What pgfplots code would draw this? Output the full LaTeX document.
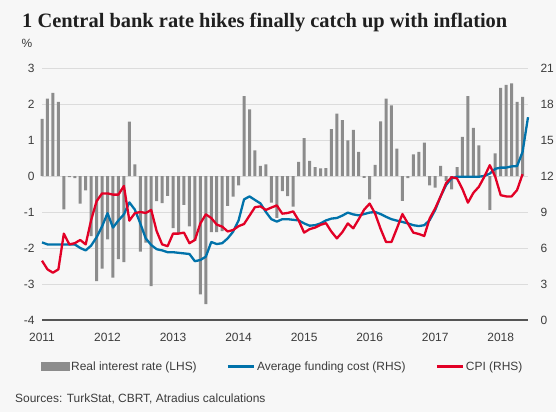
\documentclass[border=0pt]{standalone}
\usepackage{pgfplots}
\pgfplotsset{compat=1.18}
\usepackage{pgfplotstable}
\usepackage{fontspec}
\setmainfont{Liberation Sans}
\newfontfamily\titlefont{Liberation Serif}
\definecolor{bgcol}{RGB}{247,247,247}
\definecolor{barcol}{RGB}{140,140,140}
\definecolor{bluecol}{RGB}{0,114,170}
\definecolor{redcol}{RGB}{226,0,38}
\definecolor{gridcol}{RGB}{220,220,220}
\definecolor{txtcol}{RGB}{60,60,60}
\definecolor{axcol}{RGB}{85,85,85}
\pgfplotsset{
  linelegend/.style={legend image code/.code={\draw[##1] (0bp,0bp) -- (26bp,0bp);}},
  barlegend/.style={legend image code/.code={\fill[barcol] (0bp,-4bp) rectangle (28bp,4bp);}},
}
% Real interest rate (LHS), monthly, Jan 2011 = 0
\pgfplotstableread{
m r
0 1.59
1 2.15
2 2.31
3 2.06
4 -0.93
5 -0.03
6 -0.06
7 -0.77
8 -0.40
9 -1.67
10 -2.92
11 -2.57
12 -1.76
13 -2.82
14 -2.31
15 -2.39
16 1.51
17 0.32
18 -2.10
19 -1.85
20 -3.06
21 -0.70
22 -0.75
23 -0.55
24 -1.45
25 -1.60
26 -0.80
27 -1.40
28 -1.80
29 -3.29
30 -3.56
31 -1.56
32 -1.56
33 -1.53
34 -0.83
35 -0.57
36 -0.26
37 2.22
38 1.85
39 0.71
40 0.28
41 0.32
42 -0.74
43 -1.16
44 -0.42
45 -0.56
46 -0.85
47 0.39
48 1.05
49 0.42
50 0.25
51 0.21
52 0.22
53 1.30
54 1.73
55 1.55
56 0.99
57 1.28
58 0.67
59 -0.05
60 -0.65
61 0.31
62 1.52
63 2.15
64 1.96
65 0.76
66 -0.69
67 -0.06
68 0.60
69 0.67
70 0.93
71 -0.26
72 -0.32
73 0.28
74 -0.14
75 -0.37
76 0.25
77 1.09
78 2.22
79 1.34
80 0.85
81 0.03
82 -0.94
83 0.63
84 2.45
85 2.53
86 2.57
87 2.06
88 2.20
}\realrate
% Average funding cost (RHS)
\pgfplotstableread{
m v
0 6.47
1 6.3
2 6.3
3 6.3
4 6.3
5 6.3
6 6.3
7 6.0
8 5.8
9 6.2
10 6.9
11 7.8
12 8.9
13 7.7
14 8.3
15 8.8
16 9.8
17 9.2
18 8.05
19 6.8
20 6.25
21 5.9
22 5.8
23 5.65
24 5.65
25 5.6
26 5.55
27 5.5
28 4.9
29 5.0
30 5.28
31 6.5
32 6.33
33 6.4
34 6.8
35 7.36
36 8.3
37 10.05
38 10.3
39 10.0
40 9.72
41 9.0
42 8.4
43 8.2
44 8.4
45 8.4
46 8.35
47 8.3
48 8.05
49 7.86
50 7.9
51 8.05
52 8.3
53 8.45
54 8.5
55 8.7
56 8.95
57 8.8
58 8.72
59 8.83
60 8.95
61 9.0
62 8.83
63 8.6
64 8.4
65 8.28
66 8.17
67 8.05
68 7.9
69 7.83
70 7.9
71 8.33
72 9.17
73 10.3
74 11.25
75 11.8
76 11.94
77 11.94
78 11.94
79 11.94
80 11.94
81 12.0
82 12.2
83 12.6
84 12.7
85 12.7
86 12.8
87 12.83
88 14.0
89 16.9
}\funding
% CPI (RHS)
\pgfplotstableread{
m v
0 4.94
1 4.22
2 3.94
3 4.22
4 7.2
5 6.3
6 6.4
7 6.67
8 6.3
9 8.33
10 9.9
11 10.55
12 10.55
13 10.45
14 10.45
15 11.17
16 8.28
17 8.9
18 9.0
19 8.92
20 9.17
21 7.4
22 6.3
23 6.15
24 7.2
25 7.2
26 7.28
27 6.4
28 6.67
29 8.05
30 8.8
31 8.5
32 7.95
33 7.78
34 7.38
35 7.5
36 7.82
37 8.0
38 8.7
39 9.4
40 9.47
41 9.17
42 9.37
43 9.55
44 8.86
45 8.92
46 9.05
47 8.3
48 7.28
49 7.57
50 7.7
51 7.93
52 8.07
53 7.36
54 6.8
55 7.32
56 8.05
57 7.64
58 8.4
59 9.2
60 9.7
61 8.87
62 7.6
63 6.5
64 6.5
65 7.64
66 8.83
67 8.05
68 7.28
69 7.17
70 7.0
71 8.47
72 9.3
73 10.3
74 11.4
75 11.9
76 11.8
77 10.9
78 9.78
79 10.6
80 11.1
81 11.94
82 12.9
83 11.94
84 10.4
85 10.3
86 10.3
87 10.83
88 12.15
}\cpi
\begin{document}
\begin{tikzpicture}[x=1bp,y=1bp]
\fill[bgcol] (0,0) rectangle (556,412);
\useasboundingbox (0,0) rectangle (556,412);
\node[anchor=base west, inner sep=0pt, text=black!88, font=\titlefont\bfseries\fontsize{20.5}{24}\selectfont] at (22,385) {1 Central bank rate hikes finally catch up with inflation};
\node[anchor=center, inner sep=0pt, text=txtcol, font=\fontsize{12}{14}\selectfont] at (27,369) {\%};
\node[anchor=base west, inner sep=0pt, text=txtcol, font=\fontsize{12}{14}\selectfont] at (15,10) {Sources: TurkStat, CBRT, Atradius calculations};
\begin{axis}[
  at={(42bp,92bp)}, anchor=south west, scale only axis,
  width=486bp, height=252bp,
  xmin=0, xmax=89, ymin=-4, ymax=3,
  axis x line*=bottom, axis y line*=left,
  x axis line style={draw=axcol, line width=1.3bp, -},
  y axis line style={draw=none},
  ytick={-4,-3,-2,-1,0,1,2,3},
  yticklabels={-4,-3,-2,-1,0,1,2,3},
  xtick={0,12,24,36,48,60,72,84},
  xticklabels={2011,2012,2013,2014,2015,2016,2017,2018},
  major tick length=0pt,
  ymajorgrids, grid style={draw=gridcol, line width=0.9bp},
  tick label style={font=\fontsize{12}{14}\selectfont, text=txtcol},
  yticklabel style={xshift=-4bp},
  xticklabel style={yshift=-10bp},
  clip=false,
]
\addplot[ybar, bar width=3bp, bar shift=0pt, fill=barcol, draw=none] table[x=m, y=r] {\realrate};
\end{axis}
\begin{axis}[
  at={(42bp,92bp)}, anchor=south west, scale only axis,
  width=486bp, height=252bp,
  xmin=0, xmax=89, ymin=0, ymax=21,
  axis x line=none, axis y line*=right,
  y axis line style={draw=none},
  ytick={0,3,6,9,12,15,18,21},
  yticklabels={0,3,6,9,12,15,18,21},
  major tick length=0pt,
  tick label style={font=\fontsize{12}{14}\selectfont, text=txtcol},
  yticklabel style={xshift=9bp},
  clip=false,
  legend columns=3,
  legend style={at={(0.495,-0.185)}, anchor=center, draw=none, fill=none,
    font=\fontsize{12}{14}\selectfont, text=txtcol,
    /tikz/every even column/.append style={column sep=28bp}},
]
\addlegendimage{barlegend}
\addlegendentry{Real interest rate (LHS)}
\addplot[bluecol, line width=2.3bp, line join=round, linelegend] table[x=m, y=v] {\funding};
\addlegendentry{Average funding cost (RHS)}
\addplot[redcol, line width=2.3bp, line join=round, linelegend] table[x=m, y=v] {\cpi};
\addlegendentry{CPI (RHS)}
\end{axis}
\end{tikzpicture}
\end{document}
